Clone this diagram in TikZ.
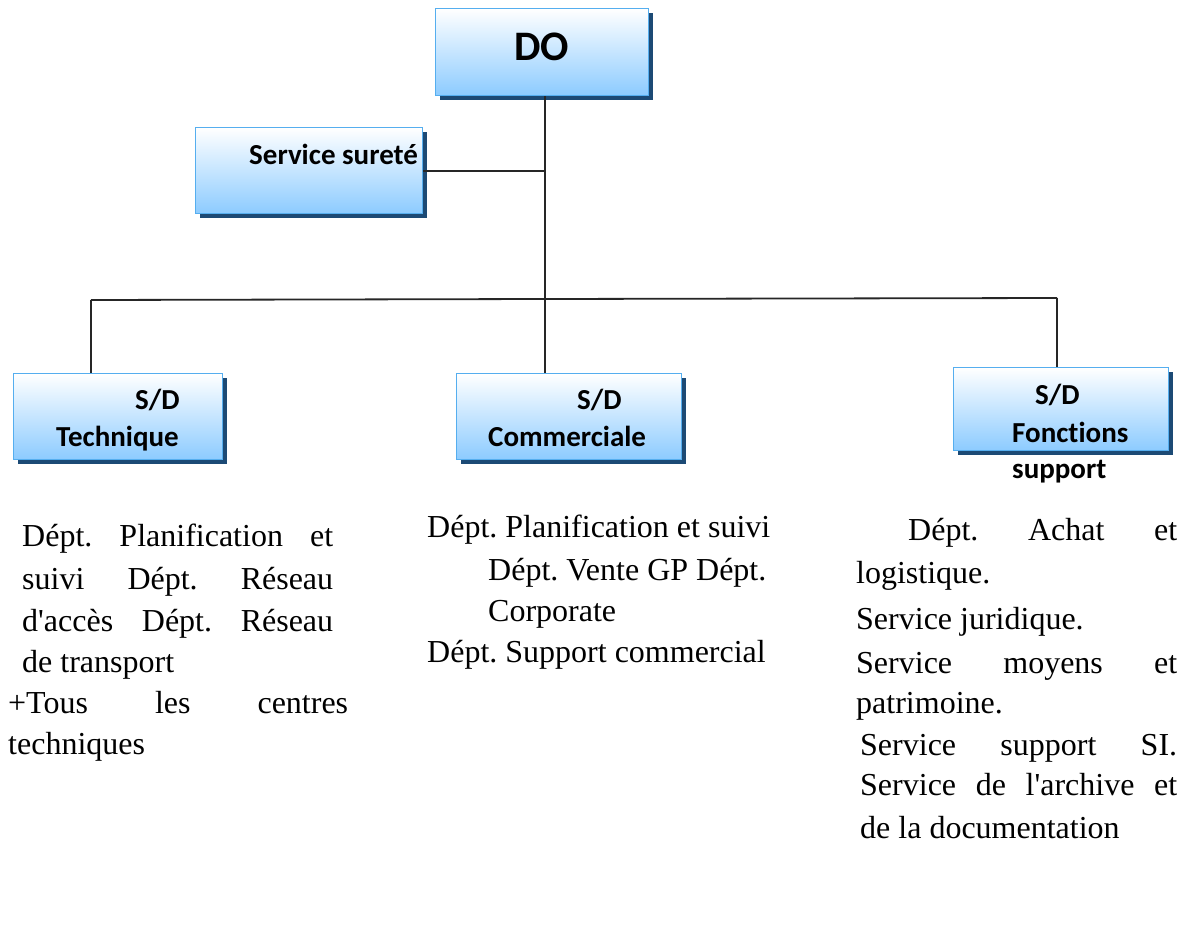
\documentclass[tikz,border=0pt]{standalone}
\usepackage{fontspec}
\setmainfont{Liberation Serif}[Ligatures=TeXOff]
\newfontfamily\boxfont{Carlito}[Ligatures=NoCommon]
\usetikzlibrary{shadows}
\frenchspacing
\definecolor{OrgSky}{HTML}{8CCBFF}
\definecolor{OrgEdge}{HTML}{55AEEF}
\definecolor{OrgShade}{HTML}{1C4A75}
\colorlet{LinkInk}{black!85}
\tikzset{
  OrgBox/.style 2 args={
      draw=OrgEdge, line width=1.3pt,
      top color=white, bottom color=OrgSky,
      minimum width=#1, minimum height=#2,
      inner sep=0pt, anchor=north west,
      drop shadow={shadow xshift=4pt, shadow yshift=-4pt, fill=OrgShade, opacity=1}
    },
  BoxText/.style={anchor=base west, inner sep=0pt, font=\boxfont\bfseries\fontsize{29}{33}\selectfont},
  BodyText/.style={anchor=base west, inner sep=0pt, font=\fontsize{32}{38}\selectfont},
  Link/.style={draw=LinkInk, line width=1.8pt}
}

\begin{document}
\begin{tikzpicture}[x=1pt, y=-1pt]
  \useasboundingbox[fill=white] (0,0) rectangle (1187,937);

  \node[OrgBox={213pt}{87pt}] (do) at (435,8) {};
  \node[OrgBox={227pt}{86pt}] (surete) at (195,127) {};
  \node[OrgBox={209pt}{86pt}] (tech) at (13,373) {};
  \node[OrgBox={225pt}{86pt}] (comm) at (456,373) {};
  \node[OrgBox={215pt}{83pt}] (fonc) at (953,367) {};

  \node[BoxText, font=\boxfont\bfseries\fontsize{42}{46}\selectfont] (doT) at (514,60) {DO};
  \node[BoxText] (sureteT) at (249,164) {Service sureté};
  \node[BoxText] (techA) at (135,409) {S/D};
  \node[BoxText] (techB) at (56,446) {Technique};
  \node[BoxText] (commA) at (577,409) {S/D};
  \node[BoxText] (commB) at (488,446) {Commerciale};
  \node[BoxText] (foncA) at (1035,404) {S/D};
  \node[BoxText] (foncB) at (1012,442) {Fonctions};
  \node[BoxText] (foncC) at (1012,478) {support};

  \coordinate (hub) at (545,299);
  \coordinate (left) at (91,300);
  \coordinate (right) at (1057,298);
  \draw[Link] (hub |- do.south) -- (hub);
  \draw[Link] (surete.east) -- (surete.east -| hub);
  \draw[Link] (left) -- (hub) -- (right);
  \draw[Link] (left) -- (left |- tech.north);
  \draw[Link] (hub) -- (hub |- comm.north);
  \draw[Link] (right) -- (right |- fonc.north);

  \node[BodyText] (tech1) at (22,546) {\makebox[311pt][s]{Dépt. Planification et}};
  \node[BodyText] (tech2) at (22,589) {\makebox[311pt][s]{suivi Dépt. Réseau}};
  \node[BodyText] (tech3) at (22,631) {\makebox[311pt][s]{d'accès Dépt. Réseau}};
  \node[BodyText] (tech4) at (22,672) {de transport};
  \node[BodyText] (tech5) at (8,713) {\makebox[340pt][s]{+Tous les centres}};
  \node[BodyText] (tech6) at (8,754) {techniques};

  \node[BodyText] (comm1) at (427,537) {Dépt. Planification et suivi};
  \node[BodyText] (comm2) at (488,580) {Dépt. Vente GP Dépt.};
  \node[BodyText] (comm3) at (488,621) {Corporate};
  \node[BodyText] (comm4) at (427,662) {Dépt. Support commercial};

  \node[BodyText] (fonc1) at (908,540) {\makebox[269pt][s]{Dépt. Achat et}};
  \node[BodyText] (fonc2) at (856,583) {logistique.};
  \node[BodyText] (fonc3) at (856,629) {Service juridique.};
  \node[BodyText] (fonc4) at (856,673) {\makebox[321pt][s]{Service moyens et}};
  \node[BodyText] (fonc5) at (856,713) {patrimoine.};
  \node[BodyText] (fonc6) at (860,755) {\makebox[317pt][s]{Service support SI.}};
  \node[BodyText] (fonc7) at (860,795) {\makebox[317pt][s]{Service de l'archive et}};
  \node[BodyText] (fonc8) at (860,838) {de la documentation};
\end{tikzpicture}
\end{document}
